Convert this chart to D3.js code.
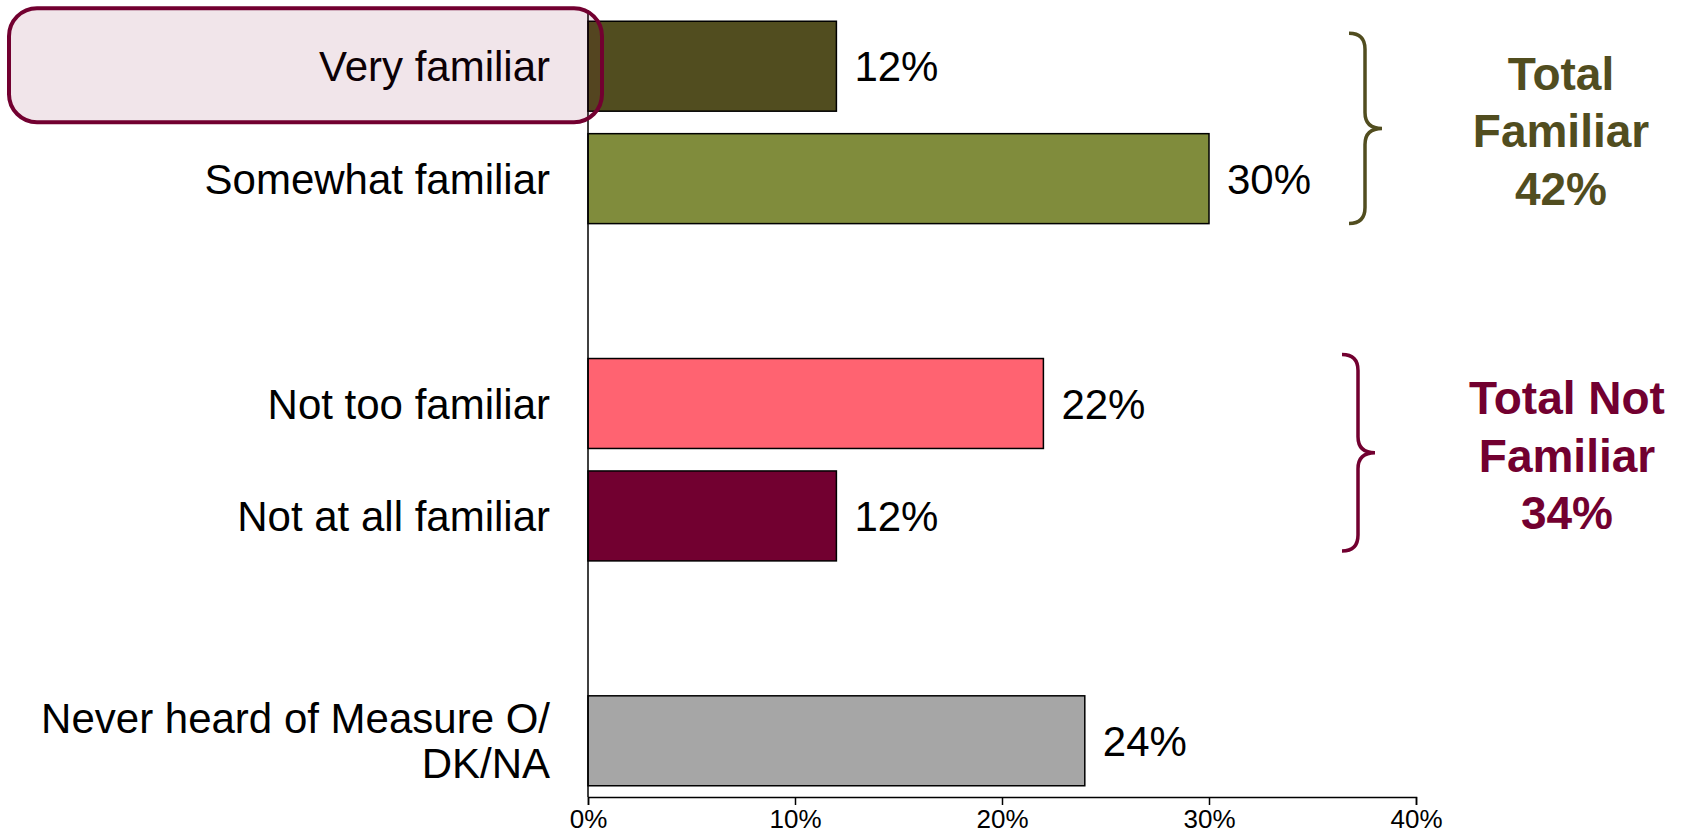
<!DOCTYPE html>
<html>
<head>
<meta charset="utf-8">
<script src="https://cdn.jsdelivr.net/npm/d3@7"></script>
<style>
    body { margin: 0; background: #fff; }
    svg { display: block; font-family: "Liberation Sans", Arial, sans-serif; }
</style>
</head>
<body>
<div id="app"></div>
<script>
"use strict";

// rows of the chart, top to bottom ("" = empty slot between groups)
const slots = ["Very familiar", "Somewhat familiar", "", "Not too familiar", "Not at all familiar", " ", "Never heard of Measure O/\nDK/NA"];
const categories = ["Very familiar", "Somewhat familiar", "Not too familiar", "Not at all familiar", "Never heard of Measure O/\nDK/NA"];
const values = [12, 30, 22, 12, 24];
const barColors = ["#514d1f", "#808c3c", "#ff6371", "#720030", "#a6a6a6"];
const xTicks = [0, 10, 20, 30, 40];

const groupLabels = [["Total", "Familiar", "42%"], ["Total Not", "Familiar", "34%"]];
const groupMembers = [["Very familiar", "Somewhat familiar"], ["Not too familiar", "Not at all familiar"]];
const groupColors = ["#514d1f", "#720030"];

const highlighted = "Very familiar";

const width = 1686, height = 838;
const margin = { left: 588, right: 270, top: 10, bottom: 41 };

// brace placement tweaks (top inset, bottom inset, brace x, text centre x)
const braceLayout = [
    { top: 12, bottom: 0, bx: 1365, tx: 1561 },
    { top: -4, bottom: -10, bx: 1358, tx: 1567 }
];

const svg = d3.select("#app").append("svg")
    .attr("width", width)
    .attr("height", height);

const x = d3.scaleLinear()
    .domain([0, 40])
    .range([margin.left, width - margin.right]);

const y = d3.scaleBand()
    .domain(slots)
    .range([margin.top, height - margin.bottom])
    .paddingInner(0.2)
    .paddingOuter(0.1);

const rows = categories.map((c, i) => ({ name: c, value: values[i], color: barColors[i] }));

// bars
svg.selectAll("rect.bar")
    .data(rows)
    .enter()
    .append("rect")
    .attr("class", "bar")
    .attr("x", x(0))
    .attr("y", d => y(d.name))
    .attr("width", d => x(d.value) - x(0))
    .attr("height", y.bandwidth())
    .attr("fill", d => d.color)
    .attr("stroke", "#000")
    .attr("stroke-width", 1.5);

// value labels
svg.selectAll("text.val")
    .data(rows)
    .enter()
    .append("text")
    .attr("class", "val")
    .attr("x", d => x(d.value) + 18)
    .attr("y", d => y(d.name) + y.bandwidth() / 2 + 15)
    .attr("font-size", 42)
    .attr("fill", "#000")
    .text(d => d.value + "%");

// category labels
const catLabels = svg.selectAll("text.cat")
    .data(rows)
    .enter()
    .append("text")
    .attr("class", "cat")
    .attr("text-anchor", "end")
    .attr("font-size", 42)
    .attr("fill", "#000");

catLabels.each(function(d) {
    let lines = d.name.split("\n");
    let cy = y(d.name) + y.bandwidth() / 2 + 15 - (lines.length - 1) * 22.5;
    lines.forEach((line, i) => {
        d3.select(this).append("tspan")
            .attr("x", margin.left - 38)
            .attr("y", cy + i * 45)
            .text(line);
    });
});

// vertical axis line
svg.append("line")
    .attr("x1", x(0)).attr("x2", x(0))
    .attr("y1", margin.top).attr("y2", height - margin.bottom)
    .attr("stroke", "#000")
    .attr("stroke-width", 1.5);

// x axis
const xAxis = svg.append("g")
    .attr("transform", `translate(0,${height - margin.bottom})`)
    .call(d3.axisBottom(x).tickValues(xTicks).tickFormat(d => d + "%").tickSize(8).tickPadding(5));

xAxis.select(".domain").attr("stroke", "#000").attr("stroke-width", 1.5);
xAxis.selectAll(".tick line").attr("stroke", "#000").attr("stroke-width", 1.5);
xAxis.selectAll(".tick text")
    .attr("font-family", "'Liberation Sans Narrow', 'Liberation Sans', Arial, sans-serif")
    .attr("font-size", 26)
    .attr("fill", "#000");

// highlight box around first label
svg.append("rect")
    .attr("x", 9)
    .attr("y", y(highlighted) - 13)
    .attr("width", x(0) + 14 - 9)
    .attr("height", y.bandwidth() + 24)
    .attr("rx", 28)
    .attr("fill", "rgba(114,0,48,0.1)")
    .attr("stroke", "#720030")
    .attr("stroke-width", 4);

// braces and group totals
groupMembers.forEach((members, gi) => {
    let lay = braceLayout[gi];
    let bx = lay.bx;
    let top = y(members[0]) + lay.top;
    let bottom = y(members[members.length - 1]) + y.bandwidth() + lay.bottom;
    let mid = (top + bottom) / 2;
    let xl = bx - 16, xt = bx + 17, r = 16;
    let path = `M${xl},${top} Q${bx},${top} ${bx},${top + r} L${bx},${mid - r} Q${bx},${mid} ${xt},${mid}`
        + ` Q${bx},${mid} ${bx},${mid + r} L${bx},${bottom - r} Q${bx},${bottom} ${xl},${bottom}`;
    svg.append("path")
        .attr("d", path)
        .attr("fill", "none")
        .attr("stroke", groupColors[gi])
        .attr("stroke-width", 3.5);

    let t = svg.append("text")
        .attr("text-anchor", "middle")
        .attr("font-size", 46)
        .attr("font-weight", "bold")
        .attr("fill", groupColors[gi]);
    groupLabels[gi].forEach((line, i) => {
        t.append("tspan")
            .attr("x", lay.tx)
            .attr("y", mid + 19 + (i - 1) * 57.5)
            .text(line);
    });
});
</script>
</body>
</html>
